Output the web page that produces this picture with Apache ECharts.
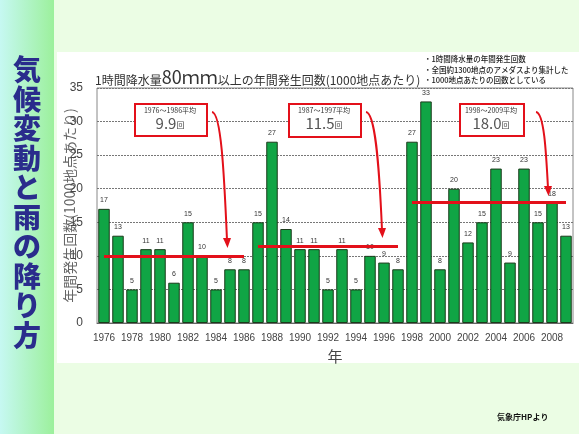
<!DOCTYPE html>
<html>
<head>
<meta charset="utf-8">
<script src="https://cdn.jsdelivr.net/npm/echarts@6/dist/echarts.min.js"></script>
<style>
  html, body { margin: 0; padding: 0; background: #ebfde4; }
  #main { width: 579px; height: 434px; }
</style>
</head>
<body>
<div id="main"></div>
<script>
// 1時間降水量80mm以上の年間発生回数 (1000地点あたり)
var years = [];
for (var y = 1976; y <= 2009; y++) years.push(String(y));
var counts = [17, 13, 5, 11, 11, 6, 15, 10, 5, 8, 8,
              15, 27, 14, 11, 11, 5, 11, 5, 10, 9, 8,
              27, 33, 8, 20, 12, 15, 23, 9, 23, 15, 18, 13];

// period averages
var periods = [
  { from: '1976', to: '1986', avg: 9.9,  label: '1976～1986平均', val: '9.9' },
  { from: '1987', to: '1997', avg: 11.5, label: '1987～1997平均', val: '11.5' },
  { from: '1998', to: '2009', avg: 18.0, label: '1998～2009平均', val: '18.0' }
];

var notes = ['・1時間降水量の年間発生回数', '・全国約1300地点のアメダスより集計した', '・1000地点あたりの回数としている'];
var sideTitle = '気候変動と雨の降り方';

var RED = '#e3101a';
var font = '"Noto Sans CJK JP", sans-serif';

var myChart = echarts.init(document.getElementById('main'));

// boxes + arrows (decoration only)
var boxes = [
  { x: 134, y: 103, w: 72, h: 32, arrow: [[212,112],[217,113],[224,170],[227,240]] },
  { x: 288, y: 103, w: 72, h: 33, arrow: [[366,112],[371,113],[379,160],[382,230]] },
  { x: 459, y: 103, w: 64, h: 32, arrow: [[536,112],[540,113],[546,150],[548,188]] }
];

var graphics = [
  // left strip
  { type: 'rect', left: 0, top: 0, z: -10, shape: { width: 54, height: 434 },
    style: { fill: new echarts.graphic.LinearGradient(0, 0, 1, 0, [
      { offset: 0, color: '#c6f8f2' }, { offset: 1, color: '#9cf09c' }]) } },
  // white panel
  { type: 'rect', left: 57, top: 52, z: -10, shape: { width: 522, height: 311 },
    style: { fill: '#ffffff' } },
  { type: 'text', left: 13, top: 55, z: 10,
    style: { text: sideTitle.split('').join('\n'), font: '900 28px ' + font, fill: '#2a2c8c',
      lineHeight: 29.5, shadowColor: 'rgba(90,110,200,0.6)', shadowOffsetX: 2, shadowOffsetY: 2, shadowBlur: 1 } },
  { type: 'text', left: 95, top: 68,
    style: { text: '{s|1時間降水量}{b|80ｍｍ}{s|以上の年間発生回数(1000地点あたり)}',
      rich: { s: { fontSize: 12, fontFamily: font, fill: '#333', verticalAlign: 'bottom' },
              b: { fontSize: 18, fontFamily: font, fill: '#333', verticalAlign: 'bottom' } } } },
  { type: 'text', left: 424, top: 54,
    style: { text: notes.join('\n'), font: '500 7.5px ' + font, lineHeight: 10.5, fill: '#222' } },
  { type: 'text', left: 497, top: 413,
    style: { text: '気象庁HPより', font: 'bold 8px ' + font, fill: '#111' } }
];

boxes.forEach(function (b, i) {
  var p = periods[i];
  graphics.push({ type: 'rect', left: b.x, top: b.y, z: 20, shape: { width: b.w, height: b.h },
    style: { fill: '#fff', stroke: RED, lineWidth: 2 } });
  graphics.push({ type: 'text', x: b.x + b.w / 2, y: b.y + 4, z: 21,
    style: { text: p.label, fontSize: 7, fontFamily: font, fill: '#333', align: 'center' } });
  graphics.push({ type: 'text', x: b.x + b.w / 2, y: b.y + 13, z: 21,
    style: { text: '{v|' + p.val + '}{u|回}', align: 'center',
      rich: { v: { fontSize: 15, fontFamily: font, fill: '#555', verticalAlign: 'bottom' },
              u: { fontSize: 8, fontFamily: font, fill: '#444', verticalAlign: 'bottom', padding: [0, 0, 2, 0] } } } });
  var a = b.arrow;
  graphics.push({ type: 'bezierCurve', z: 20,
    shape: { x1: a[0][0], y1: a[0][1], cpx1: a[1][0] + 4, cpy1: a[1][1], cpx2: a[2][0], cpy2: a[2][1], x2: a[3][0], y2: a[3][1] },
    style: { stroke: RED, lineWidth: 2, fill: null } });
  graphics.push({ type: 'polygon', z: 20,
    shape: { points: [[a[3][0] - 4, a[3][1] - 2], [a[3][0] + 4, a[3][1] - 2], [a[3][0] + 0.5, a[3][1] + 8]] },
    style: { fill: RED } });
});

var option = {
  backgroundColor: 'transparent',
  animation: false,
  graphic: graphics,
  grid: { left: 97, top: 88, right: 6, bottom: 111, show: true, borderColor: '#888', borderWidth: 1, backgroundColor: 'transparent' },
  xAxis: {
    type: 'category',
    data: years,
    name: '年',
    nameLocation: 'middle',
    nameGap: 26,
    nameTextStyle: { fontSize: 15, color: '#444', fontFamily: font },
    axisTick: { show: false },
    axisLine: { lineStyle: { color: '#666' } },
    axisLabel: { interval: 1, fontSize: 10, color: '#444', margin: 10, fontFamily: 'Liberation Sans' }
  },
  yAxis: {
    type: 'value',
    min: 0, max: 35, interval: 5,
    name: '年間発生回数(1000地点あたり)',
    nameLocation: 'middle',
    nameRotate: 90,
    nameGap: 20,
    nameMoveOverlap: false,
    nameTextStyle: { fontSize: 14, color: '#666', fontFamily: font },
    axisLine: { show: false },
    axisTick: { show: false },
    axisLabel: { fontSize: 12, color: '#444', margin: 14, fontFamily: 'Liberation Sans' },
    splitLine: { lineStyle: { color: '#777', type: [2, 1], width: 1 } }
  },
  series: [{
    type: 'bar',
    data: counts,
    barCategoryGap: '18%',
    itemStyle: { color: '#10a545', borderColor: '#1b3b1b', borderWidth: 1 },
    label: { show: true, position: 'top', distance: 5, fontSize: 7, color: '#333', fontFamily: 'Liberation Sans' },
    markLine: {
      silent: true,
      symbol: ['none', 'none'],
      label: { show: false },
      lineStyle: { color: RED, width: 3, type: 'solid' },
      data: periods.map(function (p) {
        return [{ coord: [p.from, p.avg] }, { coord: [p.to, p.avg] }];
      })
    }
  }]
};

myChart.setOption(option);
</script>
</body>
</html>
